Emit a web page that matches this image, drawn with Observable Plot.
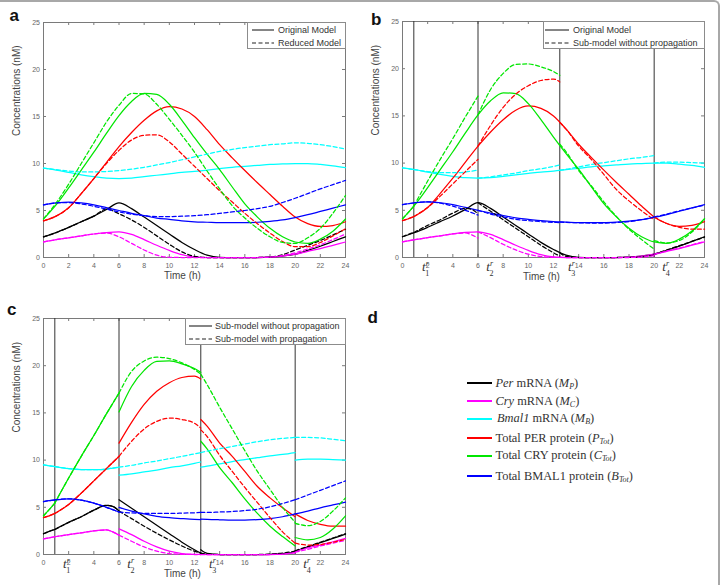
<!DOCTYPE html>
<html>
<head>
<meta charset="utf-8">
<script src="https://cdn.jsdelivr.net/npm/d3@7"></script>
<script src="https://cdn.jsdelivr.net/npm/@observablehq/plot@0.6"></script>
<style>
  html, body { margin: 0; padding: 0; background: #fff; }
  #fig { position: relative; width: 721px; height: 585px; overflow: hidden; background: #fff;
         font-family: Arial, "Liberation Sans", Helvetica, sans-serif; }
  .abs { position: absolute; }
  .lgbox { position: absolute; background: #fff; border: 1px solid #8c8c8c; box-sizing: border-box; }
  .lgtxt { position: absolute; font-size: 9px; color: #333; white-space: nowrap; line-height: 10px; height: 10px; }
  .dtxt { position: absolute; font-family: "Liberation Serif", "Times New Roman", serif; font-size: 12.4px;
          color: #333; white-space: nowrap; line-height: 14px; height: 14px; }
  .dtxt sub { font-size: 8px; vertical-align: -2px; line-height: 0; }
  .border { position: absolute; left: -6px; top: 0px; width: 726px; height: 620px; box-sizing: border-box;
            border-top: 2px solid #a8a8a8; border-right: 2px solid #a8a8a8; border-top-right-radius: 6px; }
</style>
</head>
<body>
<div id="fig"></div>
<script>
// ---------------- data ----------------
const species = ["Per mRNA", "Cry mRNA", "Bmal1 mRNA", "Total PER protein", "Total CRY protein", "Total BMAL1 protein"];
const palette = ["#000000", "#ff00ff", "#00ffff", "#ff0000", "#00e600", "#0000ff"];

const xTicks = [0, 2, 4, 6, 8, 10, 12, 14, 16, 18, 20, 22, 24];
const yTicks = [0, 5, 10, 15, 20, 25];

const hours = [0, 1, 2, 3, 4, 5, 6, 7, 8, 9, 10, 11, 12, 13, 14, 15, 16, 17, 18, 19, 20, 21, 22, 23, 24];

// Original model
const origMp   = [2.2, 2.65, 3.2, 3.8, 4.4, 5.1, 5.8, 5.2, 4.3, 3.4, 2.5, 1.6, 0.85, 0.25, 0.02, 0, 0, 0, 0.04, 0.15, 0.35, 0.75, 1.2, 1.7, 2.2];
const origMc   = [1.65, 1.9, 2.1, 2.3, 2.5, 2.65, 2.72, 2.45, 1.9, 1.3, 0.75, 0.3, 0.06, 0, 0, 0, 0, 0, 0.04, 0.15, 0.35, 0.65, 0.95, 1.3, 1.65];
const origMb   = [9.5, 9.3, 9.05, 8.8, 8.6, 8.45, 8.4, 8.45, 8.6, 8.75, 8.9, 9.05, 9.15, 9.3, 9.45, 9.6, 9.7, 9.8, 9.9, 9.95, 10.0, 10.0, 9.9, 9.75, 9.55];
const origPtot = [3.9, 4.4, 5.3, 6.8, 8.4, 10.1, 11.8, 13.3, 14.6, 15.6, 16.05, 15.8, 15.0, 13.6, 12.0, 10.6, 9.25, 7.95, 6.7, 5.45, 4.3, 3.6, 3.3, 3.4, 3.8];
const origCtot = [4.1, 5.6, 7.4, 9.3, 11.2, 13.2, 15.1, 16.6, 17.45, 17.35, 16.3, 14.6, 12.75, 11.0, 9.35, 7.5, 5.7, 4.3, 3.1, 2.2, 1.65, 1.5, 1.95, 2.8, 4.1];
const origBtot = [5.6, 5.8, 5.9, 5.8, 5.6, 5.3, 5.0, 4.7, 4.45, 4.2, 4.05, 3.9, 3.8, 3.75, 3.7, 3.7, 3.7, 3.75, 3.85, 4.0, 4.25, 4.55, 4.9, 5.25, 5.6];

// Reduced model
const redMp   = [2.2, 2.65, 3.2, 3.8, 4.4, 5.15, 4.65, 4.0, 3.2, 2.3, 1.4, 0.6, 0.12, 0, 0, 0, 0, 0, 0.05, 0.3, 0.8, 1.3, 1.8, 2.4, 3.0];
const redMc   = [1.65, 1.9, 2.1, 2.3, 2.5, 2.6, 2.2, 1.5, 0.8, 0.25, 0.02, 0, 0, 0, 0, 0, 0, 0, 0.05, 0.2, 0.5, 0.9, 1.35, 1.9, 2.5];
const redMb   = [9.5, 9.35, 9.2, 9.1, 9.1, 9.15, 9.25, 9.4, 9.6, 9.85, 10.1, 10.4, 10.7, 11.0, 11.3, 11.5, 11.7, 11.85, 12.0, 12.1, 12.2, 12.15, 12.0, 11.8, 11.55];
const redPtot = [3.9, 4.4, 5.3, 6.8, 8.4, 10.0, 11.4, 12.5, 13.0, 13.05, 12.3, 11.0, 9.7, 8.4, 7.1, 5.9, 4.7, 3.6, 2.6, 1.7, 1.15, 1.15, 1.6, 2.3, 3.05];
const redCtot = [4.1, 5.8, 7.8, 10.0, 12.2, 14.4, 16.2, 17.45, 17.4, 16.3, 14.7, 13.0, 11.2, 9.2, 7.3, 5.5, 4.2, 3.1, 2.2, 1.6, 1.5, 2.1, 3.1, 4.7, 6.6];
const redBtot = [5.6, 5.8, 5.85, 5.7, 5.45, 5.15, 4.85, 4.6, 4.45, 4.35, 4.35, 4.4, 4.45, 4.55, 4.7, 4.85, 5.0, 5.2, 5.45, 5.85, 6.3, 6.8, 7.3, 7.75, 8.2];

// Reset times t1r..t4r and sub-model segments
const resetTimes = [0.9, 6, 12.5, 20];
const resetNames = ["1", "2", "3", "4"];
const segTimes = [0, 0.45, 0.9,  0.9, 2, 3, 4, 5, 5.5, 6,  6, 7, 8, 9, 10, 11, 12, 12.5,  12.5, 13, 14, 15, 16, 17, 18, 19, 20,  20, 21, 22, 23, 24];
const segIds   = [0, 0, 0,       1, 1, 1, 1, 1, 1, 1,     2, 2, 2, 2, 2, 2, 2, 2,          3, 3, 3, 3, 3, 3, 3, 3, 3,          4, 4, 4, 4, 4];

// Sub-model without propagation
const npMp   = [2.2, 2.45, 2.65,  2.65, 3.4, 4.0, 4.7, 5.2, 5.1, 4.6,  5.8, 4.9, 4.0, 3.1, 2.2, 1.3, 0.5, 0.15,  0.5, 0.12, 0, 0, 0, 0, 0.02, 0.08, 0.25,  0.35, 0.8, 1.25, 1.7, 2.15];
const npMc   = [1.65, 1.77, 1.88,  1.88, 2.1, 2.3, 2.5, 2.6, 2.4, 2.05,  2.72, 2.1, 1.4, 0.8, 0.35, 0.1, 0.01, 0,  0.03, 0, 0, 0, 0, 0, 0, 0.05, 0.2,  0.35, 0.7, 1.0, 1.35, 1.7];
const npMb   = [9.5, 9.4, 9.32,  9.32, 9.1, 9.0, 8.98, 9.05, 9.15, 9.25,  8.4, 8.55, 8.75, 8.95, 9.2, 9.4, 9.65, 9.8,  9.25, 9.35, 9.6, 9.85, 10.05, 10.25, 10.45, 10.6, 10.8,  10.0, 10.1, 10.1, 10.05, 10.0];
const npPtot = [3.9, 4.1, 4.35,  4.35, 5.3, 6.5, 7.8, 9.1, 9.75, 10.4,  11.8, 14.0, 15.9, 17.3, 18.2, 18.75, 18.9, 18.6,  14.3, 13.6, 11.8, 10.4, 8.8, 7.2, 6.0, 4.95, 4.0,  4.3, 3.6, 3.2, 3.0, 3.0];
const npCtot = [4.1, 4.75, 5.45,  5.45, 8.1, 10.4, 12.6, 14.9, 16.0, 17.1,  15.1, 17.8, 19.5, 20.45, 20.5, 20.2, 19.7, 19.3,  12.0, 11.2, 9.2, 7.6, 5.9, 4.35, 3.0, 1.9, 0.9,  1.8, 1.55, 1.8, 2.7, 4.1];
const npBtot = [5.6, 5.7, 5.78,  5.78, 5.9, 5.75, 5.45, 5.0, 4.75, 4.5,  5.0, 4.6, 4.3, 4.05, 3.9, 3.8, 3.72, 3.7,  3.75, 3.72, 3.68, 3.65, 3.65, 3.7, 3.8, 4.0, 4.3,  4.3, 4.6, 4.95, 5.25, 5.55];

// Sub-model with propagation
const pMp   = [2.2, 2.45, 2.65,  2.65, 3.4, 4.0, 4.7, 5.2, 5.1, 4.6,  4.6, 3.8, 3.0, 2.25, 1.55, 0.9, 0.35, 0.15,  0.15, 0.04, 0, 0, 0, 0, 0.05, 0.15, 0.35,  0.4, 0.85, 1.3, 1.75, 2.2];
const pMc   = [1.65, 1.77, 1.88,  1.88, 2.1, 2.3, 2.5, 2.6, 2.4, 2.05,  2.05, 1.4, 0.8, 0.35, 0.1, 0.02, 0, 0,  0, 0, 0, 0, 0, 0, 0, 0.05, 0.2,  0.25, 0.55, 0.9, 1.2, 1.5];
const pMb   = [9.5, 9.4, 9.32,  9.32, 9.1, 9.0, 8.98, 9.05, 9.15, 9.25,  9.25, 9.45, 9.7, 9.9, 10.15, 10.4, 10.65, 10.8,  10.8, 10.95, 11.2, 11.45, 11.7, 11.95, 12.15, 12.3, 12.4,  12.4, 12.4, 12.35, 12.2, 12.05];
const pPtot = [3.9, 4.1, 4.35,  4.35, 5.3, 6.5, 7.8, 9.1, 9.75, 10.4,  10.4, 12.0, 13.3, 14.1, 14.45, 14.3, 13.9, 13.4,  13.2, 12.5, 10.5, 8.8, 7.1, 5.5, 3.9, 2.4, 1.2,  1.2, 1.0, 1.05, 1.3, 1.6];
const pCtot = [4.1, 4.75, 5.45,  5.45, 8.1, 10.4, 12.6, 14.9, 16.0, 17.1,  17.1, 19.4, 20.5, 20.9, 20.75, 20.3, 19.6, 19.1,  19.1, 18.0, 15.6, 13.3, 11.0, 8.8, 6.9, 5.0, 3.4,  3.3, 3.05, 3.5, 4.6, 6.0];
const pBtot = [5.6, 5.7, 5.78,  5.78, 5.9, 5.75, 5.45, 5.0, 4.75, 4.5,  4.5, 4.4, 4.35, 4.35, 4.35, 4.38, 4.42, 4.45,  4.45, 4.45, 4.5, 4.55, 4.65, 4.8, 5.05, 5.4, 5.8,  5.8, 6.3, 6.8, 7.3, 7.8];

// Legend texts
const legendA = ["Original Model", "Reduced Model"];
const legendB = ["Original Model", "Sub-model without propagation"];
const legendC = ["Sub-model without propagation", "Sub-model with propagation"];
const legendD = [
  "<i>Per</i> mRNA (<i>M<sub>P</sub></i>)",
  "<i>Cry</i> mRNA (<i>M<sub>C</sub></i>)",
  "<i>Bmal1</i> mRNA (<i>M<sub>B</sub></i>)",
  "Total PER protein (<i>P<sub>Tot</sub></i>)",
  "Total CRY protein (<i>C<sub>Tot</sub></i>)",
  "Total BMAL1 protein (<i>B<sub>Tot</sub></i>)"
];
const panelLetters = ["a", "b", "c", "d"];

// ---------------- helpers ----------------
function toRows(times, arrays, ids) {
  const rows = [];
  arrays.forEach((arr, k) => arr.forEach((v, i) =>
    rows.push({t: times[i], v, s: species[k], seg: ids ? ids[i] : 0})));
  return rows;
}
const origRows = toRows(hours, [origMp, origMc, origMb, origPtot, origCtot, origBtot]);
const redRows  = toRows(hours, [redMp, redMc, redMb, redPtot, redCtot, redBtot]);
const npRows   = toRows(segTimes, [npMp, npMc, npMb, npPtot, npCtot, npBtot], segIds);
const pRows    = toRows(segTimes, [pMp, pMc, pMb, pPtot, pCtot, pBtot], segIds);

const fig = document.getElementById("fig");
const FONT = "Arial, 'Liberation Sans', Helvetica, sans-serif";
const SERIF = "'Liberation Serif', 'Times New Roman', serif";

function curve(rows, dashed) {
  return Plot.line(rows, {
    x: "t", y: "v", z: d => d.s + "|" + d.seg, stroke: "s",
    strokeWidth: 1.25, curve: "monotone-x",
    strokeDasharray: dashed ? "4,2.5" : null
  });
}

function makePanel(o) {
  const iw = o.width - o.ml - o.mr, ih = o.height - o.mt - o.mb;
  const marks = [
    Plot.frame({stroke: "#7a7a7a", strokeWidth: 1}),
    Plot.tickX(xTicks, {x: d => d, insetTop: ih - 3, stroke: "#7a7a7a"}),
    Plot.tickX(xTicks, {x: d => d, insetBottom: ih - 3, stroke: "#7a7a7a"}),
    Plot.tickY(yTicks, {y: d => d, insetRight: iw - 3, stroke: "#7a7a7a"}),
    Plot.tickY(yTicks, {y: d => d, insetLeft: iw - 3, stroke: "#7a7a7a"}),
    Plot.axisX(xTicks, {tickSize: 0, tickPadding: 5.5, fontSize: 7, color: "#666", label: null}),
    Plot.axisY(yTicks, {tickSize: 0, tickPadding: 3.5, fontSize: 7, color: "#666", label: null}),
    Plot.text(["Time (h)"], {text: d => d, frameAnchor: "bottom", dy: o.xlabDy, dx: -12, fontSize: 10, fill: "#444"}),
    Plot.text(["Concentrations (nM)"], {text: d => d, frameAnchor: "left", rotate: -90, dx: -27, dy: -4, fontSize: 10, fill: "#444"})
  ];
  if (o.resets) {
    marks.push(Plot.ruleX(resetTimes, {x: d => d, stroke: "#333", strokeWidth: 1}));
    marks.push(Plot.text(resetTimes, {x: d => d, text: () => "t", frameAnchor: "bottom", dx: 10, dy: 13,
      fontSize: 13, fontFamily: SERIF, fontStyle: "italic", fill: "#333"}));
    marks.push(Plot.text(resetTimes, {x: d => d, text: () => "r", frameAnchor: "bottom", dx: 13.5, dy: 8,
      fontSize: 8, fontFamily: SERIF, fontStyle: "italic", fill: "#333"}));
    marks.push(Plot.text(resetTimes, {x: d => d, text: (d, i) => resetNames[i], frameAnchor: "bottom", dx: 13.5, dy: 18.5,
      fontSize: 8, fontFamily: SERIF, fill: "#333"}));
  }
  marks.push(curve(o.solid, false));
  marks.push(curve(o.dashed, true));
  const svg = Plot.plot({
    width: o.width, height: o.height,
    marginLeft: o.ml, marginRight: o.mr, marginTop: o.mt, marginBottom: o.mb,
    x: {domain: [0, 24], label: null},
    y: {domain: [0, 25], label: null},
    color: {type: "ordinal", domain: species, range: palette},
    style: {background: "transparent", fontFamily: FONT, fontSize: "7px", overflow: "visible"},
    marks
  });
  const wrap = document.createElement("div");
  wrap.className = "abs";
  wrap.style.left = o.left + "px";
  wrap.style.top = o.top + "px";
  wrap.appendChild(svg);
  fig.appendChild(wrap);
}

function addLegend(box, labels) {
  const d = document.createElement("div");
  d.className = "lgbox";
  Object.assign(d.style, {left: box.x0 + "px", top: box.y0 + "px",
    width: (box.x1 - box.x0) + "px", height: (box.y1 - box.y0) + "px"});
  fig.appendChild(d);
  labels.forEach((lab, i) => {
    const y = box.rows[i];
    const w = box.l1 - box.l0;
    const s = document.createElement("div");
    s.className = "abs";
    s.style.left = box.l0 + "px";
    s.style.top = (y - 2) + "px";
    s.innerHTML = `<svg width="${w}" height="4" style="display:block"><line x1="0" y1="2" x2="${w}" y2="2" stroke="#222" stroke-width="1.1" ${i === 1 ? 'stroke-dasharray="4,2.5"' : ""}/></svg>`;
    fig.appendChild(s);
    const t = document.createElement("div");
    t.className = "lgtxt";
    t.style.left = box.tx + "px";
    t.style.top = (y - 5) + "px";
    t.textContent = lab;
    fig.appendChild(t);
  });
}

// ---------------- panels ----------------
makePanel({left: 0, top: 0, width: 360, height: 290, ml: 43, mr: 15, mt: 22, mb: 33, xlabDy: 21,
  solid: origRows, dashed: redRows, resets: false});
makePanel({left: 360, top: 0, width: 361, height: 290, ml: 42, mr: 17, mt: 21, mb: 33, xlabDy: 22,
  solid: origRows, dashed: npRows, resets: true});
makePanel({left: 0, top: 290, width: 360, height: 295, ml: 43, mr: 15, mt: 28, mb: 31, xlabDy: 22,
  solid: npRows, dashed: pRows, resets: true});

addLegend({x0: 247, x1: 346, y0: 22, y1: 49, l0: 252, l1: 274, tx: 278, rows: [30, 43]}, legendA);
addLegend({x0: 543, x1: 705, y0: 21, y1: 49, l0: 545, l1: 569, tx: 573, rows: [29.5, 42.5]}, legendB);
addLegend({x0: 185, x1: 346, y0: 318, y1: 345, l0: 189, l1: 212, tx: 215, rows: [326, 339]}, legendC);

// panel d legend
const dRows = [383, 401, 418.5, 438, 455.5, 476];
legendD.forEach((html, i) => {
  const ln = document.createElement("div");
  ln.className = "abs";
  Object.assign(ln.style, {left: "467px", top: (dRows[i] - 1) + "px", width: "25px", height: "2px", background: palette[i]});
  fig.appendChild(ln);
  const t = document.createElement("div");
  t.className = "dtxt";
  t.style.left = (i === 2 ? 497 : 495.5) + "px";
  t.style.top = (dRows[i] - 7.5) + "px";
  t.innerHTML = html;
  fig.appendChild(t);
});

// panel letters + outer border
const ov = document.createElementNS("http://www.w3.org/2000/svg", "svg");
ov.setAttribute("width", 721); ov.setAttribute("height", 585);
ov.setAttribute("class", "abs");
ov.style.left = "0px"; ov.style.top = "0px"; ov.style.pointerEvents = "none";
const letterPos = [[9.5, 21], [371, 24.5], [7, 315], [367.5, 323]];
ov.innerHTML = panelLetters.map((l, i) =>
  `<text x="${letterPos[i][0]}" y="${letterPos[i][1]}" font-family="${FONT.replace(/'/g, '&quot;')}" font-weight="bold" font-size="17" fill="#111">${l}</text>`).join("");
fig.appendChild(ov);
const border = document.createElement("div");
border.className = "border";
fig.appendChild(border);
</script>
</body>
</html>
